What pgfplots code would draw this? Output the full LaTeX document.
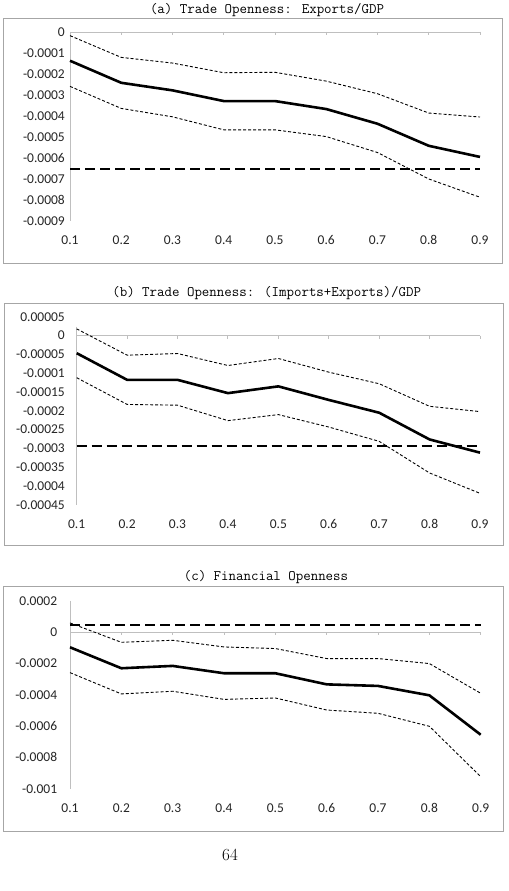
\documentclass[border=0pt]{standalone}
\usepackage{fontspec}
\usepackage{pgfplots}
\pgfplotsset{compat=1.18}
\newfontfamily\carlito{Carlito}
\definecolor{axgray}{HTML}{BFBFBF}
\definecolor{boxgray}{HTML}{A6A6A6}
\pgfplotsset{
  qstyle/.style={
    scale only axis, xmin=0.1, xmax=0.9, anchor=south west,
    axis line style={draw=none}, tick style={draw=none},
    xtick={0.1,0.2,0.3,0.4,0.5,0.6,0.7,0.8,0.9},
    xticklabels={0.1,0.2,0.3,0.4,0.5,0.6,0.7,0.8,0.9},
    scaled y ticks=false, scaled x ticks=false,
    ticklabel style={font=\carlito\fontsize{13.5bp}{16bp}\selectfont, text=black!85, inner sep=0pt},
    xticklabel style={anchor=center, yshift=-19bp},
    clip=false,
  },
}
\tikzset{
  est/.style={black, line width=2.6bp, line join=round},
  ci/.style={black, line width=0.9bp, dash pattern=on 3bp off 2bp},
  ols/.style={black, line width=2bp, dash pattern=on 10bp off 5bp},
  axl/.style={axgray, line width=0.9bp},
}
\begin{document}
\begin{tikzpicture}[x=1bp,y=1bp]
\path[use as bounding box, fill=white] (0,0) rectangle (509,891);
% frames
\draw[boxgray, line width=0.9bp] (3,873) rectangle (502,627.7);
\draw[boxgray, line width=0.9bp] (4,588) rectangle (503,345.3);
\draw[boxgray, line width=0.9bp] (3.3,305) rectangle (503,60);
% titles
\node[font=\ttfamily\fontsize{14.5bp}{17bp}\selectfont] at (267,881) {(a) Trade Openness: Exports/GDP};
\node[font=\ttfamily\fontsize{14.5bp}{17bp}\selectfont] at (266.7,597.7) {(b) Trade Openness: (Imports+Exports)/GDP};
\node[font=\ttfamily\fontsize{14.5bp}{17bp}\selectfont] at (266,314.3) {(c) Financial Openness};
\node[font=\fontsize{17bp}{20bp}\selectfont] at (230,36) {64};

% panel a
\begin{axis}[qstyle, at={(70bp,670bp)}, width=410bp, height=189bp,
  ymin=-0.0009, ymax=0,
  ytick={-0.0009,-0.0008,-0.0007,-0.0006,-0.0005,-0.0004,-0.0003,-0.0002,-0.0001,0},
  yticklabels={-0.0009,-0.0008,-0.0007,-0.0006,-0.0005,-0.0004,-0.0003,-0.0002,-0.0001,0},
  yticklabel style={anchor=east, xshift=-5bp}]
\draw[axl] (axis cs:0.1,0) -- (axis cs:0.9,0);
\draw[axl] (axis cs:0.1,0) -- (axis cs:0.1,-0.0009);
\pgfplotsinvokeforeach{0.2,0.3,0.4,0.5,0.6,0.7,0.8,0.9}{\draw[axl] (axis cs:#1,0) -- ([yshift=-3bp]axis cs:#1,0);}
\addplot[ci] coordinates {(0.1,-0.0000175) (0.2,-0.000121) (0.3,-0.000148) (0.4,-0.000194) (0.5,-0.000192) (0.6,-0.000234) (0.7,-0.000294) (0.8,-0.000386) (0.9,-0.000405)};
\addplot[ci] coordinates {(0.1,-0.000259) (0.2,-0.000364) (0.3,-0.000404) (0.4,-0.000466) (0.5,-0.000466) (0.6,-0.000498) (0.7,-0.000574) (0.8,-0.0007) (0.9,-0.000787)};
\addplot[ols] coordinates {(0.1,-0.000652) (0.9,-0.000652)};
\addplot[est] coordinates {(0.1,-0.000137) (0.2,-0.000242) (0.3,-0.000278) (0.4,-0.000329) (0.5,-0.000329) (0.6,-0.000367) (0.7,-0.000437) (0.8,-0.000542) (0.9,-0.000595)};
\end{axis}

% panel b
\begin{axis}[qstyle, at={(76.7bp,386bp)}, width=403.3bp, height=188.3bp,
  ymin=-0.00045, ymax=0.00005,
  ytick={-0.00045,-0.0004,-0.00035,-0.0003,-0.00025,-0.0002,-0.00015,-0.0001,-0.00005,0,0.00005},
  yticklabels={-0.00045,-0.0004,-0.00035,-0.0003,-0.00025,-0.0002,-0.00015,-0.0001,-0.00005,0,0.00005},
  yticklabel style={anchor=east, xshift=-11.7bp}]
\draw[axl] (axis cs:0.1,0) -- (axis cs:0.9,0);
\draw[axl] (axis cs:0.1,0.0000235) -- (axis cs:0.1,-0.00045);
\pgfplotsinvokeforeach{0.2,0.3,0.4,0.5,0.6,0.7,0.8,0.9}{\draw[axl] (axis cs:#1,0) -- ([yshift=-3bp]axis cs:#1,0);}
\addplot[ci] coordinates {(0.1,0.0000177) (0.2,-0.0000522) (0.3,-0.0000478) (0.4,-0.0000796) (0.5,-0.000061) (0.6,-0.0000973) (0.7,-0.000128) (0.8,-0.000188) (0.9,-0.000202)};
\addplot[ci] coordinates {(0.1,-0.000112) (0.2,-0.000183) (0.3,-0.000185) (0.4,-0.000226) (0.5,-0.00021) (0.6,-0.000243) (0.7,-0.000281) (0.8,-0.000365) (0.9,-0.000419)};
\addplot[ols] coordinates {(0.1,-0.000294) (0.9,-0.000294)};
\addplot[est] coordinates {(0.1,-0.0000469) (0.2,-0.0001177) (0.3,-0.0001177) (0.4,-0.000153) (0.5,-0.000135) (0.6,-0.000171) (0.7,-0.000205) (0.8,-0.000276) (0.9,-0.000311)};
\end{axis}

% panel c
\begin{axis}[qstyle, at={(70bp,102.3bp)}, width=410.7bp, height=187.7bp,
  ymin=-0.001, ymax=0.0002,
  ytick={-0.001,-0.0008,-0.0006,-0.0004,-0.0002,0,0.0002},
  yticklabels={-0.001,-0.0008,-0.0006,-0.0004,-0.0002,0,0.0002},
  yticklabel style={anchor=east, xshift=-12.7bp}]
\draw[axl] (axis cs:0.1,0) -- (axis cs:0.9,0);
\draw[axl] (axis cs:0.1,0.0002) -- (axis cs:0.1,-0.001);
\pgfplotsinvokeforeach{0.2,0.3,0.4,0.5,0.6,0.7,0.8,0.9}{\draw[axl] (axis cs:#1,0) -- ([yshift=-3bp]axis cs:#1,0);}
\addplot[ci] coordinates {(0.1,0.0000597) (0.2,-0.000064) (0.3,-0.0000512) (0.4,-0.0000938) (0.5,-0.000104) (0.6,-0.000168) (0.7,-0.000168) (0.8,-0.0002) (0.9,-0.00039)};
\addplot[ci] coordinates {(0.1,-0.000258) (0.2,-0.000394) (0.3,-0.000377) (0.4,-0.000429) (0.5,-0.00042) (0.6,-0.000497) (0.7,-0.000518) (0.8,-0.000601) (0.9,-0.000923)};
\addplot[ols] coordinates {(0.1,0.0000448) (0.9,0.0000448)};
\addplot[est] coordinates {(0.1,-0.0000959) (0.2,-0.00023) (0.3,-0.000215) (0.4,-0.000262) (0.5,-0.000262) (0.6,-0.000333) (0.7,-0.000343) (0.8,-0.000403) (0.9,-0.000655)};
\end{axis}
\end{tikzpicture}
\end{document}
